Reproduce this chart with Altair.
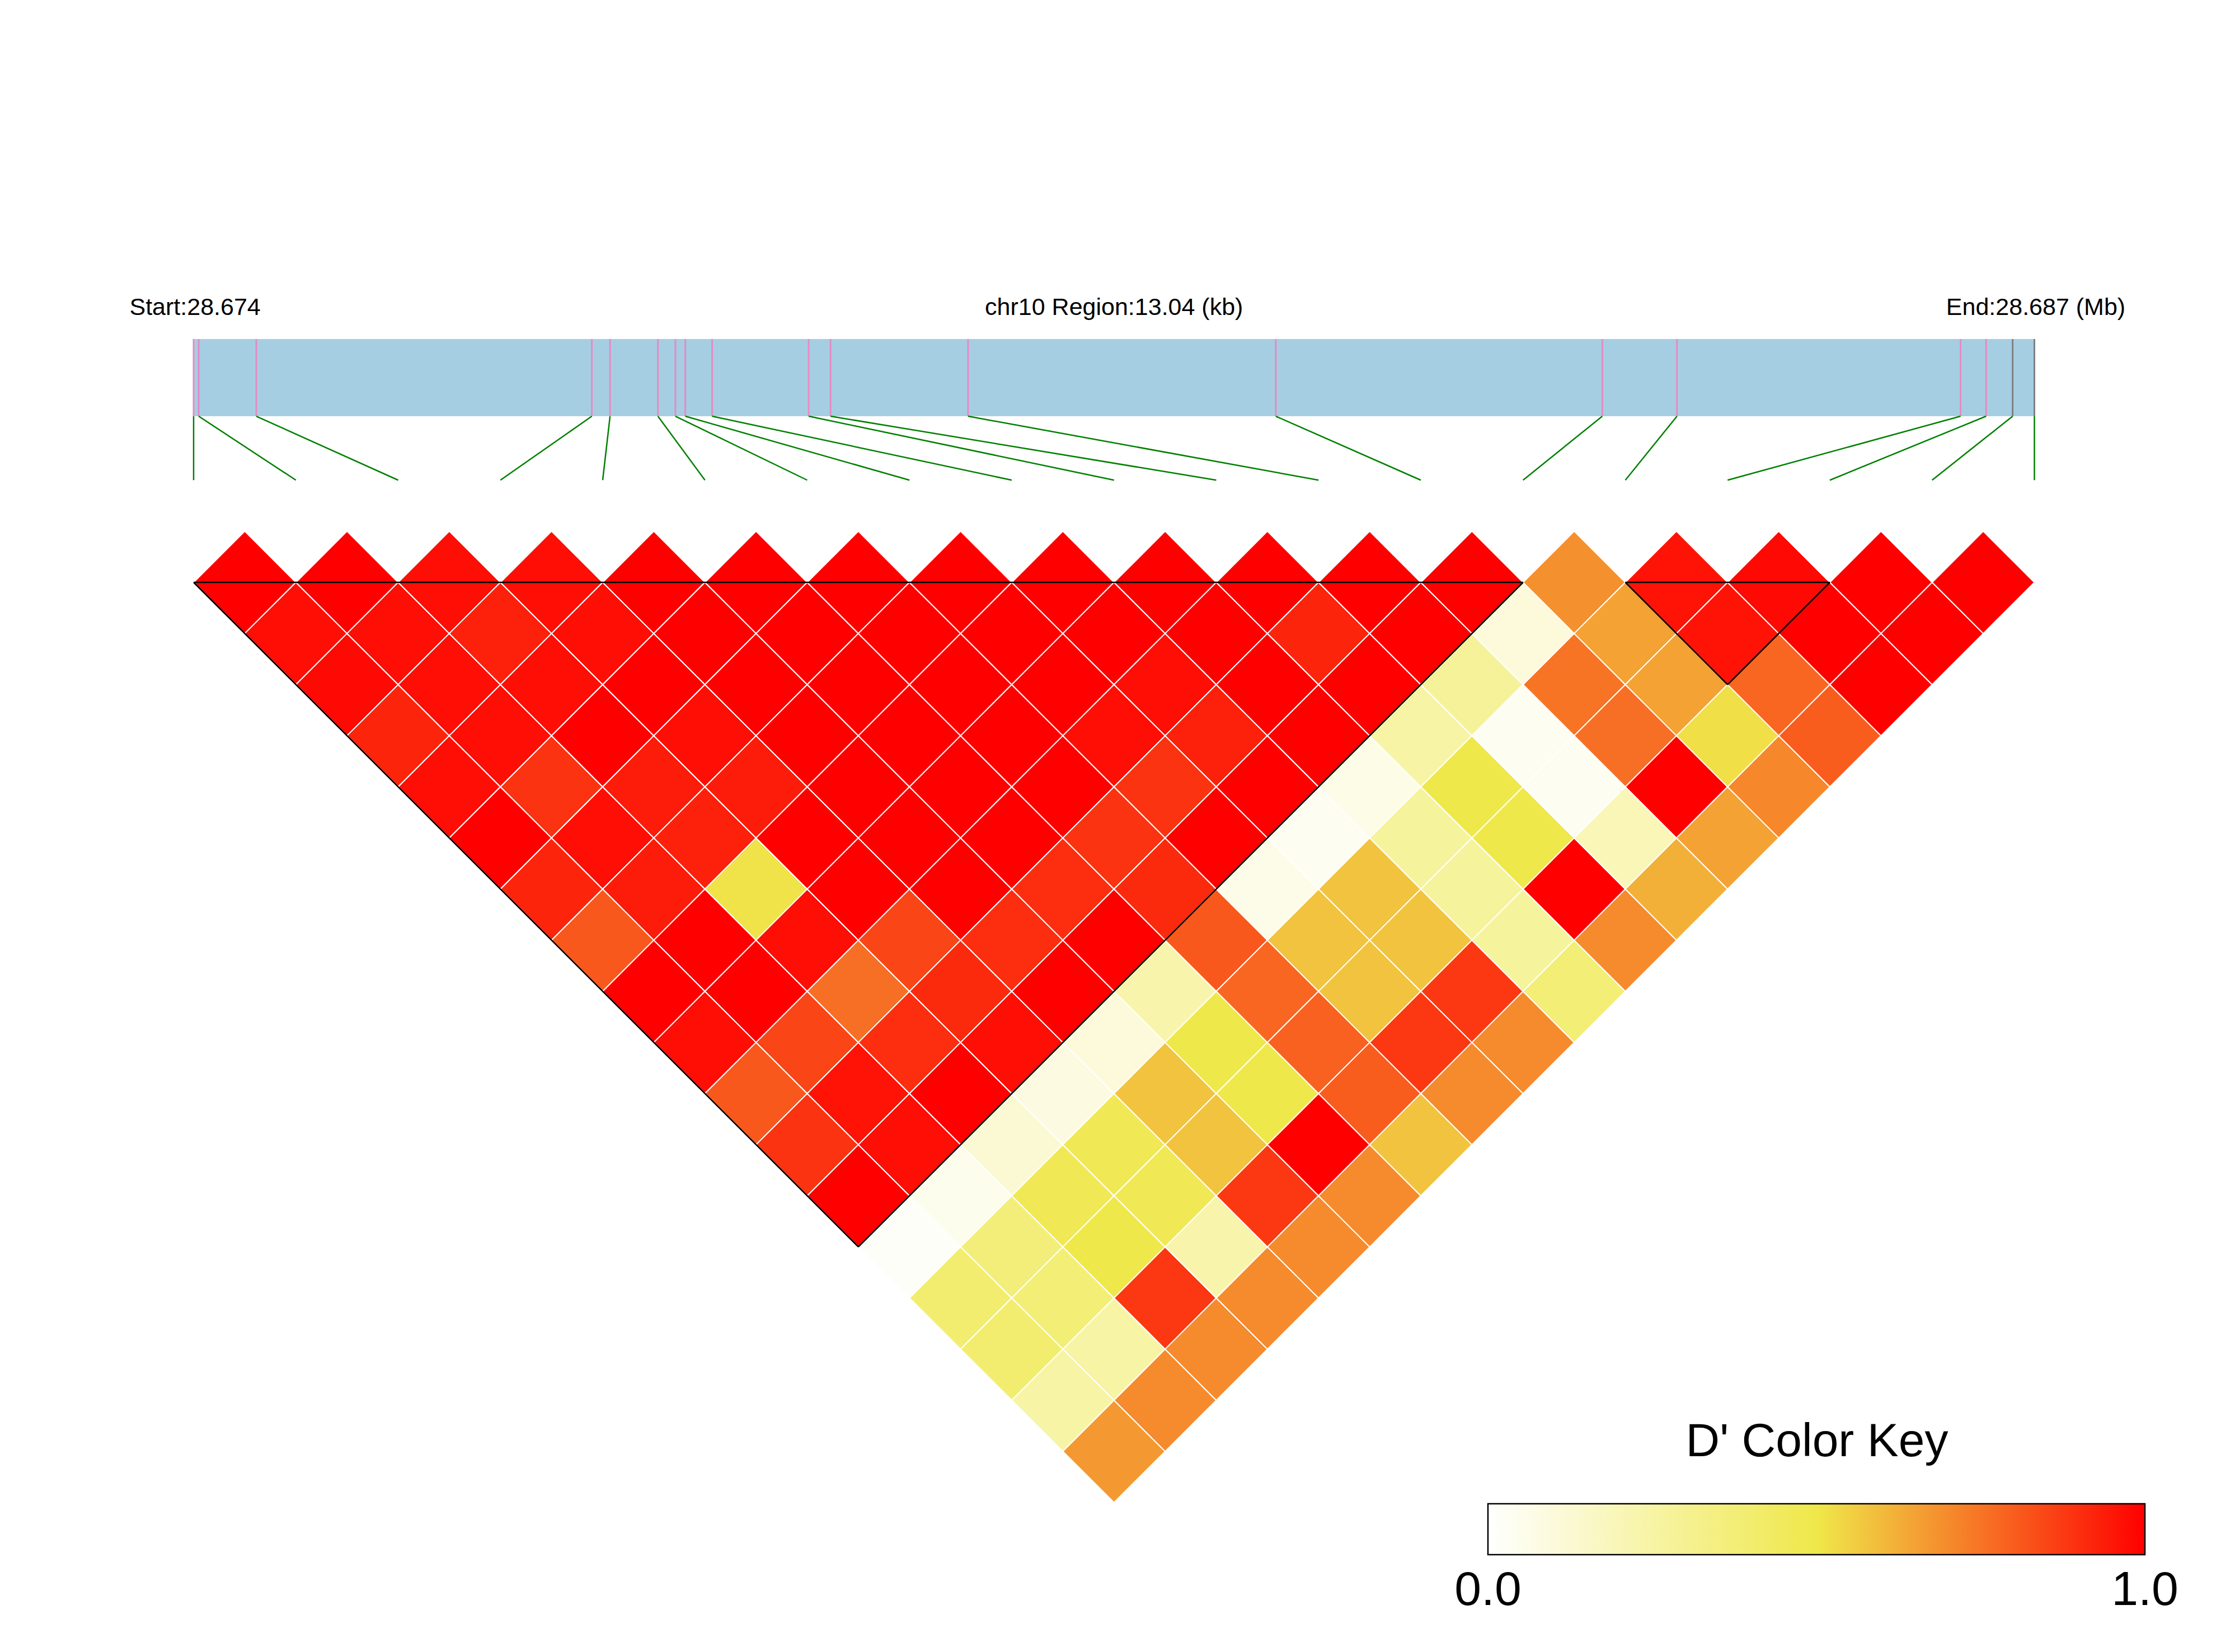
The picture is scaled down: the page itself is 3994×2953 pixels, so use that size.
import altair as alt
import pandas as pd

# ---------------- data ----------------
chromosome = "chr10"
region_start_kb = 28674.20
snp_offset_kb = [0.000, 0.036, 0.444, 2.821, 2.950, 3.289, 3.413, 3.483, 3.673, 4.357,
                 4.512, 5.486, 7.666, 9.979, 10.508, 12.517, 12.698, 12.886, 13.040]

# D' of SNP i with SNPs i+1 .. 18 (upper triangle, one list per SNP)
dprime_snp00 = [1.00, 0.97, 0.98, 0.92, 0.97, 1.00, 0.92, 0.81, 1.00, 0.97, 0.81, 0.89, 1.00, 0.02, 0.40, 0.40, 0.25, 0.67]
dprime_snp01 = [1.00, 0.97, 0.97, 0.97, 0.89, 0.97, 0.94, 1.00, 1.00, 0.85, 0.96, 0.97, 0.05, 0.37, 0.38, 0.25, 0.70]
dprime_snp02 = [0.97, 0.93, 0.97, 1.00, 0.94, 0.93, 0.51, 0.97, 0.76, 0.90, 1.00, 0.12, 0.47, 0.50, 0.88, 0.70]
dprime_snp03 = [0.97, 0.97, 1.00, 0.97, 0.94, 1.00, 1.00, 0.85, 0.91, 0.97, 0.08, 0.47, 0.47, 0.23, 0.70]
dprime_snp04 = [1.00, 1.00, 1.00, 1.00, 1.00, 1.00, 1.00, 0.90, 1.00, 0.10, 0.58, 0.58, 0.88, 0.70]
dprime_snp05 = [1.00, 1.00, 1.00, 1.00, 1.00, 1.00, 0.90, 1.00, 0.23, 0.50, 0.50, 1.00, 0.70]
dprime_snp06 = [1.00, 1.00, 1.00, 1.00, 1.00, 0.89, 0.91, 0.81, 0.78, 0.79, 0.80, 0.58]
dprime_snp07 = [1.00, 1.00, 1.00, 0.97, 0.89, 1.00, 0.06, 0.58, 0.58, 0.88, 0.70]
dprime_snp08 = [1.00, 1.00, 0.97, 0.93, 1.00, 0.04, 0.58, 0.58, 0.88, 0.70]
dprime_snp09 = [1.00, 1.00, 1.00, 1.00, 0.07, 0.27, 0.27, 0.27, 0.38]
dprime_snp10 = [1.00, 0.92, 1.00, 0.25, 0.50, 0.50, 1.00, 0.70]
dprime_snp11 = [1.00, 1.00, 0.28, 0.04, 0.04, 0.20, 0.62]
dprime_snp12 = [1.00, 0.10, 0.75, 0.76, 1.00, 0.65]
dprime_snp13 = [0.69, 0.65, 0.65, 0.52, 0.71]
dprime_snp14 = [0.96, 0.96, 0.78, 0.80]
dprime_snp15 = [0.98, 1.00, 1.00]
dprime_snp16 = [1.00, 1.00]
dprime_snp17 = [1.00]

block_first_snp = [0, 14]
block_last_snp = [13, 16]

key_min, key_max = 0.0, 1.0

# ---------------- layout / style ----------------
W, H = 3978, 2937
UNIT = 182.75                      # px per SNP step
X0, Y0 = 338.0, 1033.0             # px of u=0 / v=0 in plot area
X_DOMAIN = [-X0 / UNIT, (W - X0) / UNIT]
Y_DOMAIN = [-Y0 / UNIT, (H - Y0) / UNIT]
BAR_TOP, BAR_BOTTOM, LINK_END = -2.38, -1.625, -1.0
TEXT_V = -2.6156
FONT = "Liberation Sans"
GRAY_TICKS = {17, 18}
KEY_X, KEY_Y, KEY_LEN, KEY_THICK = 2651, 2529, 1174, 91
KEY_LABEL_V = 10.0

xs = alt.Scale(domain=X_DOMAIN, nice=False, zero=False)
ys = alt.Scale(domain=Y_DOMAIN, nice=False, zero=False, reverse=True)

# ---------------- derived tables ----------------
rows = [dprime_snp00, dprime_snp01, dprime_snp02, dprime_snp03, dprime_snp04, dprime_snp05,
        dprime_snp06, dprime_snp07, dprime_snp08, dprime_snp09, dprime_snp10, dprime_snp11,
        dprime_snp12, dprime_snp13, dprime_snp14, dprime_snp15, dprime_snp16, dprime_snp17]
N = len(snp_offset_kb)
recs = []
for i, row in enumerate(rows):
    for k, val in enumerate(row):
        j = i + 1 + k
        recs.append({"i": i, "j": j, "u": (i + j) / 2, "v": (j - i - 1) / 2, "dprime": val})
cells = pd.DataFrame(recs)

span_kb = snp_offset_kb[-1] - snp_offset_kb[0]
snps = pd.DataFrame({
    "idx": list(range(N)),
    "gen_u": [(o - snp_offset_kb[0]) / span_kb * (N - 1) for o in snp_offset_kb],
    "kind": ["gray" if k in GRAY_TICKS else "pink" for k in range(N)],
})
bar = pd.DataFrame({"u0": [0.0], "u1": [float(N - 1)]})

segs = []
for a, b in zip(block_first_snp, block_last_snp):
    mid, depth = (a + b) / 2, (b - a) / 2
    segs += [{"x": a, "y": 0, "x2": b, "y2": 0},
             {"x": a, "y": 0, "x2": mid, "y2": depth},
             {"x": b, "y": 0, "x2": mid, "y2": depth}]
segs = pd.DataFrame(segs)

start_kb = region_start_kb + snp_offset_kb[0]
end_kb = region_start_kb + snp_offset_kb[-1]
start_label = f"Start:{start_kb / 1000:.3f}"
mid_label = f"{chromosome} Region:{span_kb:.2f} (kb)"
end_label = f"End:{end_kb / 1000:.3f} (Mb)"

# key label positions (gradient ends) in x-scale units
key_u0 = (KEY_X - X0) / UNIT
key_u1 = (KEY_X + KEY_LEN - X0) / UNIT

# ---------------- layers ----------------
bar_layer = alt.Chart(bar).mark_rect(color="#A6CEE3").encode(
    x=alt.X("u0:Q", scale=xs, axis=None), x2="u1:Q",
    y=alt.YDatum(BAR_TOP, scale=ys, axis=None), y2=alt.datum(BAR_BOTTOM))

pink_layer = alt.Chart(snps).transform_filter("datum.kind == 'pink'").mark_rule(
    color="#E78AC3", strokeWidth=3).encode(
    x=alt.X("gen_u:Q", scale=xs, axis=None),
    y=alt.YDatum(BAR_TOP, scale=ys, axis=None), y2=alt.datum(BAR_BOTTOM))

gray_layer = alt.Chart(snps).transform_filter("datum.kind == 'gray'").mark_rule(
    color="#808080", strokeWidth=3).encode(
    x=alt.X("gen_u:Q", scale=xs, axis=None),
    y=alt.YDatum(BAR_TOP, scale=ys, axis=None), y2=alt.datum(BAR_BOTTOM))

link_layer = alt.Chart(snps).mark_rule(color="#008000", strokeWidth=2.5).encode(
    x=alt.X("gen_u:Q", scale=xs, axis=None), x2="idx:Q",
    y=alt.YDatum(BAR_BOTTOM, scale=ys, axis=None), y2=alt.datum(LINK_END))

cell_layer = alt.Chart(cells).mark_point(
    shape="diamond", filled=True, size=UNIT * UNIT, opacity=1,
    stroke="white", strokeWidth=2, strokeOpacity=1).encode(
    x=alt.X("u:Q", scale=xs, axis=None),
    y=alt.Y("v:Q", scale=ys, axis=None),
    fill=alt.Fill("dprime:Q",
                  scale=alt.Scale(domain=[key_min, 0.5, key_max],
                                  range=["#FFFFFF", "#EFE84A", "#FF0000"],
                                  interpolate="rgb"),
                  legend=alt.Legend(
                      title="D' Color Key", orient="none", legendX=KEY_X, legendY=KEY_Y,
                      direction="horizontal", gradientLength=KEY_LEN,
                      gradientThickness=KEY_THICK, labelOpacity=0, labelFontSize=10,
                      titleFontSize=84, titleFont=FONT, titleFontWeight="normal",
                      titleColor="black", titleAnchor="middle", titleOrient="top",
                      titleLimit=3000, titlePadding=67,
                      gradientStrokeColor="black", gradientStrokeWidth=2.5)))

block_layer = alt.Chart(segs).mark_rule(color="black", strokeWidth=2.5).encode(
    x=alt.X("x:Q", scale=xs, axis=None), x2="x2:Q",
    y=alt.Y("y:Q", scale=ys, axis=None), y2="y2:Q")


def label_layer(text, u, v, align, size):
    return alt.Chart(pd.DataFrame({"label": [text]})).mark_text(
        align=align, baseline="alphabetic", fontSize=size, font=FONT, color="black").encode(
        x=alt.XDatum(u, scale=xs, axis=None), y=alt.YDatum(v, scale=ys, axis=None),
        text="label:N")


chart = alt.layer(
    bar_layer, pink_layer, gray_layer, link_layer, cell_layer, block_layer,
    label_layer(start_label, -0.6266, TEXT_V, "left", 43),
    label_layer(mid_label, (N - 1) / 2, TEXT_V, "center", 43),
    label_layer(end_label, 18.89, TEXT_V, "right", 43),
    label_layer(f"{key_min:.1f}", key_u0, KEY_LABEL_V, "center", 86),
    label_layer(f"{key_max:.1f}", key_u1, KEY_LABEL_V, "center", 86),
).properties(
    width=W, height=H, padding=0,
    autosize=alt.AutoSizeParams(type="none"),
).configure_view(stroke=None)

chart.save("out.html", embed_options={"renderer": "svg", "actions": False})
